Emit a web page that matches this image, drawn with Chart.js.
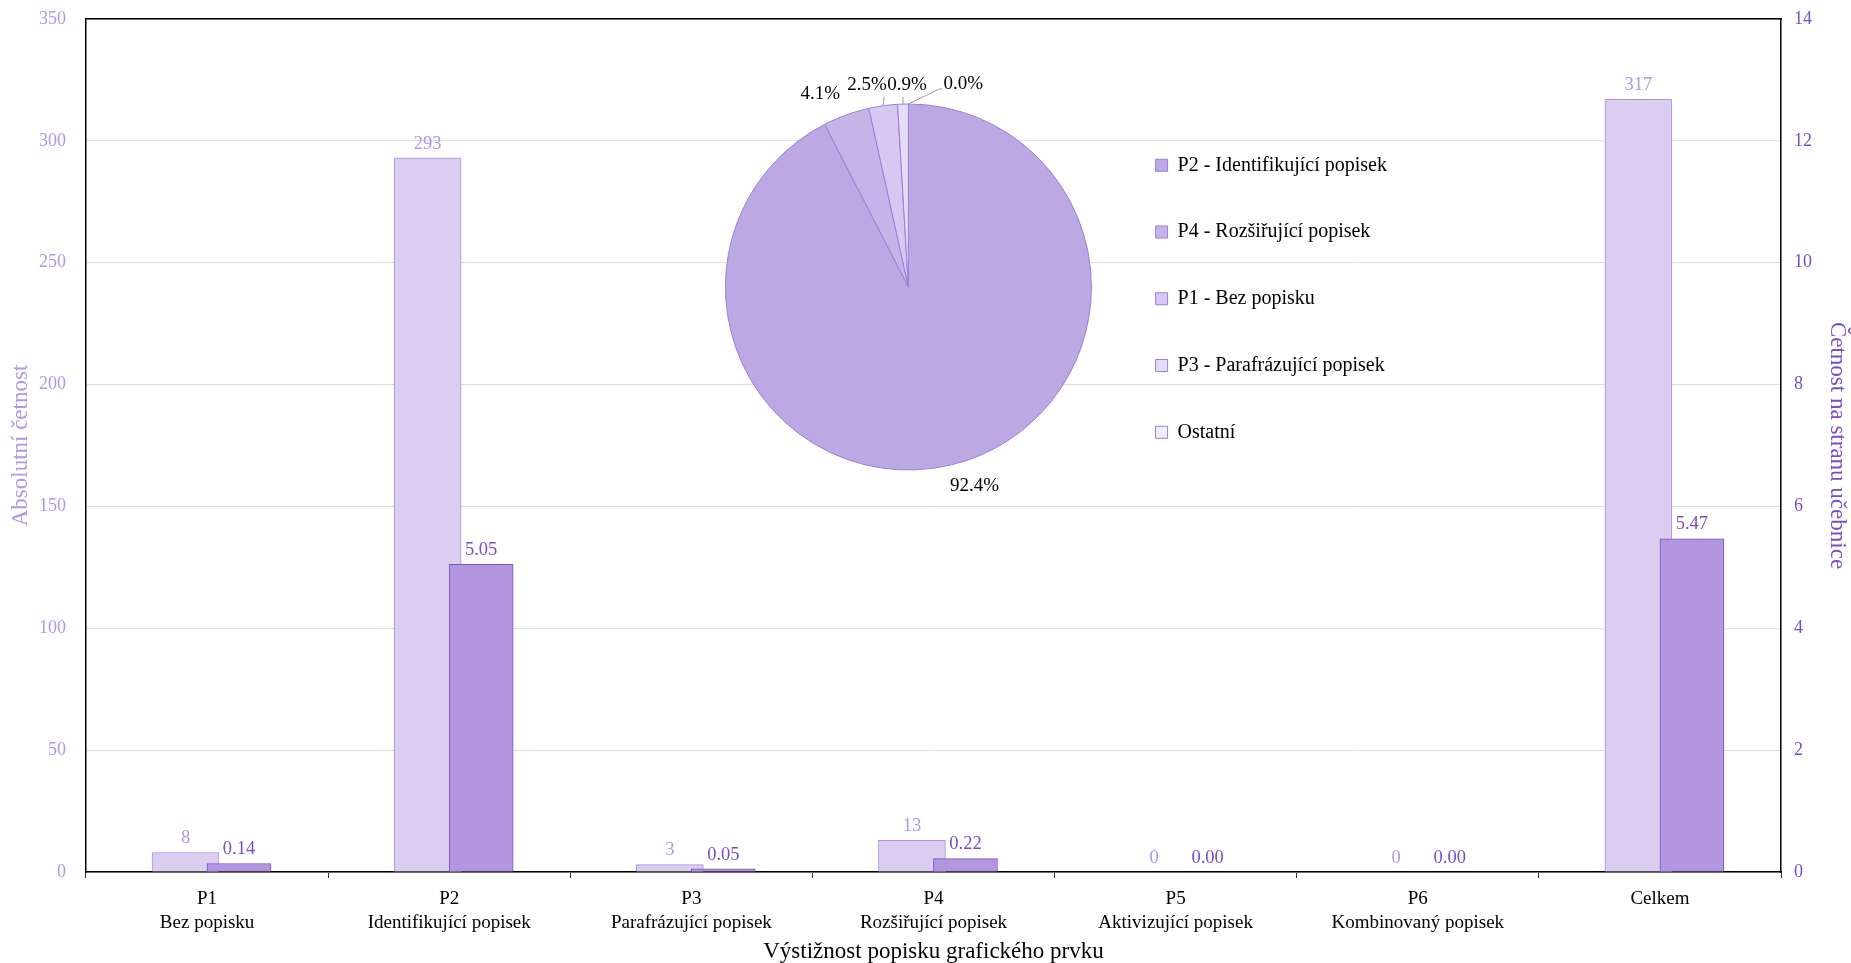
<!DOCTYPE html>
<html>
<head>
<meta charset="utf-8">
<script src="https://cdn.jsdelivr.net/npm/chart.js@4.4.1/dist/chart.umd.min.js"></script>
<style>
  html, body { margin: 0; padding: 0; background: #fff; }
  #wrap { position: relative; width: 1851px; height: 963px; }
  #barChart { position: absolute; left: 0; top: 0; }
  #pieChart { position: absolute; left: 640px; top: 40px; }
</style>
</head>
<body>
<div id="wrap">
  <canvas id="barChart" width="1851" height="963" style="width:1851px;height:963px"></canvas>
  <canvas id="pieChart" width="757" height="480" style="width:757px;height:480px"></canvas>
</div>
<script>
const categories = [
  ["P1", "Bez popisku"],
  ["P2", "Identifikující popisek"],
  ["P3", "Parafrázující popisek"],
  ["P4", "Rozšiřující popisek"],
  ["P5", "Aktivizující popisek"],
  ["P6", "Kombinovaný popisek"],
  ["Celkem"]
]
const absoluteCounts = [8, 293, 3, 13, 0, 0, 317]
const perPage = [0.14, 5.05, 0.05, 0.22, 0.00, 0.00, 5.47]

const pieLabels = [
  "P2 - Identifikující popisek",
  "P4 - Rozšiřující popisek",
  "P1 - Bez popisku",
  "P3 - Parafrázující popisek",
  "Ostatní"
]
const pieCounts = [293, 13, 8, 3, 0]

const FONT = "'Liberation Serif', 'DejaVu Serif', serif"
const LIGHT = "#b096e6"
const DARK = "#7a4cc9"

// where each pie percentage sits relative to the slice edge (style only)
const pieLabelStyle = [
  { dx: 23, dy: 21 },
  { dx: -26, dy: -21 },
  { dx: -16, dy: -21, line: [1, -9] },
  { dx: 4, dy: -19, line: [0, -7] },
  { dx: 35, dy: -20, line: [31, -15], left: true }
]

const barLabels = {
  id: "barLabels",
  afterDatasetsDraw(chart) {
    const ctx = chart.ctx
    ctx.save()
    ctx.font = "18.5px " + FONT
    ctx.textAlign = "center"
    ctx.textBaseline = "bottom"
    chart.data.datasets.forEach((ds, di) => {
      const meta = chart.getDatasetMeta(di)
      meta.data.forEach((bar, i) => {
        const v = ds.data[i].y
        ctx.fillStyle = ds.labelColor
        ctx.fillText(ds.decimals ? v.toFixed(2) : String(v), bar.x, bar.y - 5)
      })
    })
    ctx.restore()
  }
}

const pieValueLabels = {
  id: "pieValueLabels",
  afterDatasetsDraw(chart) {
    const ctx = chart.ctx
    const data = chart.data.datasets[0].data
    const total = data.reduce((a, b) => a + b, 0)
    ctx.save()
    ctx.font = "19px " + FONT
    ctx.fillStyle = "#000"
    ctx.strokeStyle = "#999"
    ctx.lineWidth = 1
    ctx.textBaseline = "middle"
    chart.getDatasetMeta(0).data.forEach((arc, i) => {
      const p = arc.getProps(["x", "y", "startAngle", "endAngle", "outerRadius"], true)
      const mid = (p.startAngle + p.endAngle) / 2
      const ex = p.x + Math.cos(mid) * p.outerRadius
      const ey = p.y + Math.sin(mid) * p.outerRadius
      const st = pieLabelStyle[i]
      if (st.line) {
        ctx.beginPath()
        ctx.moveTo(ex, ey)
        ctx.lineTo(ex + st.line[0], ey + st.line[1])
        if (st.left) ctx.lineTo(ex + st.dx - 1, ey + st.line[1])
        ctx.stroke()
      }
      ctx.textAlign = st.left ? "left" : "center"
      ctx.fillText((data[i] / total * 100).toFixed(1) + "%", ex + st.dx, ey + st.dy)
    })
    ctx.restore()
  }
}

function initCharts() {
  const ctx1 = document.getElementById("barChart").getContext("2d")
  new Chart(ctx1, {
    type: "bar",
    data: {
      labels: categories,
      datasets: [
        {
          label: "Absolutní četnost",
          data: absoluteCounts.map((v, i) => ({ x: i, y: v })),
          xAxisID: "xA",
          yAxisID: "y",
          backgroundColor: "#dccdf0",
          borderColor: "#ad90e3",
          borderWidth: 1,
          barThickness: 67,
          grouped: false,
          order: 1,
          labelColor: LIGHT,
        },
        {
          label: "Četnost na stranu učebnice",
          data: perPage.map((v, i) => ({ x: i, y: v })),
          xAxisID: "xB",
          yAxisID: "y2",
          backgroundColor: "#b296e0",
          borderColor: "#7b52c6",
          borderWidth: 1,
          barThickness: 64,
          grouped: false,
          order: 0,
          labelColor: DARK,
          decimals: true,
        },
      ],
    },
    options: {
      responsive: false,
      animation: false,
      layout: { padding: { left: 3, right: 0, top: 0, bottom: 0 } },
      plugins: { legend: { display: false }, tooltip: { enabled: false } },
      scales: {
        x: {
          type: "category",
          offset: true,
          afterFit: (s) => { s.height = 91 },
          grid: { offset: true, drawOnChartArea: false, tickLength: 6, color: "#333" },
          border: { color: "#000", width: 1.5 },
          ticks: { color: "#000", font: { family: FONT, size: 19, lineHeight: 1.263 }, padding: 9, maxRotation: 0 },
          title: { display: true, text: "Výstižnost popisku grafického prvku", color: "#000", font: { family: FONT, size: 23 }, padding: { top: 2, bottom: -3 } },
        },
        xTop: {
          type: "category",
          position: "top",
          afterFit: (s) => { s.height = 19 },
          grid: { drawOnChartArea: false, drawTicks: false },
          border: { color: "#000", width: 1.5 },
          ticks: { display: false },
        },
        xA: { type: "linear", display: false, offset: false, min: -0.411, max: 6.589 },
        xB: { type: "linear", display: false, offset: false, min: -0.632, max: 6.368 },
        y: {
          position: "left",
          min: 0,
          max: 350,
          afterFit: (s) => { s.width = 83; s.paddingTop = 0; s.paddingBottom = 0 },
          ticks: { stepSize: 50, color: LIGHT, font: { family: FONT, size: 18 }, padding: 20 },
          grid: { color: "#dddddd", drawTicks: false },
          border: { color: "#000", width: 1.5 },
          title: { display: true, text: "Absolutní četnost", color: LIGHT, font: { family: FONT, size: 23 }, padding: { top: 4, bottom: 0 } },
        },
        y2: {
          position: "right",
          min: 0,
          max: 14,
          afterFit: (s) => { s.width = 70; s.paddingTop = 0; s.paddingBottom = 0 },
          ticks: { stepSize: 2, color: DARK, font: { family: FONT, size: 18 }, padding: 13 },
          grid: { drawOnChartArea: false, drawTicks: false },
          border: { color: "#000", width: 1.5 },
          title: { display: true, text: "Četnost na stranu učebnice", color: DARK, font: { family: FONT, size: 23 }, padding: { top: 0, bottom: 0 } },
        },
      },
    },
    plugins: [barLabels],
  })

  const ctx2 = document.getElementById("pieChart").getContext("2d")
  new Chart(ctx2, {
    type: "pie",
    data: {
      labels: pieLabels,
      datasets: [
        {
          data: pieCounts,
          backgroundColor: ["#bda8e3", "#c6b3e8", "#d6c8f0", "#e5dcf6", "#f2edfb"],
          borderColor: "#9b7edb",
          borderWidth: 1,
          radius: 183,
        },
      ],
    },
    options: {
      responsive: false,
      animation: false,
      layout: { padding: { left: 68, top: 45, bottom: 31, right: 0 } },
      plugins: {
        tooltip: { enabled: false },
        legend: {
          position: "right",
          align: "end",
          labels: {
            boxWidth: 12,
            boxHeight: 12,
            padding: 46.75,
            color: "#000",
            font: { family: FONT, size: 20 },
          },
        },
      },
    },
    plugins: [pieValueLabels],
  })
}

document.addEventListener("DOMContentLoaded", () => {
  initCharts()
})
</script>
</body>
</html>
